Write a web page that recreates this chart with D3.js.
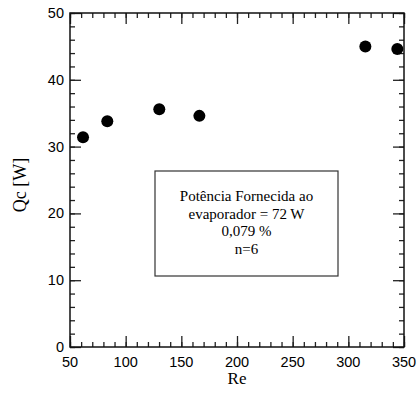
<!DOCTYPE html>
<html>
<head>
<meta charset="utf-8">
<script src="https://cdn.jsdelivr.net/npm/d3@7"></script>
<style>
  body { margin: 0; background: #fff; }
  svg { display: block; }
</style>
</head>
<body>
<div id="chart"></div>
<script>
// data
let reValues = [61.7, 83.5, 130.2, 166.2, 315.3, 344];
let qcValues = [31.4, 33.8, 35.6, 34.6, 45.0, 44.6];
let xTicks = [50, 100, 150, 200, 250, 300, 350];
let yTicks = [0, 10, 20, 30, 40, 50];
let boxLines = ["Potência Fornecida ao", "evaporador = 72 W", "0,079 %", "n=6"];

//SVG sizes and margins
let width = 417,
  height = 394;
let margin = { top: 13, right: 13, bottom: 47, left: 70 };
let plotW = width - margin.left - margin.right,
  plotH = height - margin.top - margin.bottom;

let svg = d3.select("#chart").append("svg")
  .attr("width", width)
  .attr("height", height);

let x = d3.scaleLinear().domain([50, 350]).range([0, plotW]);
let y = d3.scaleLinear().domain([0, 50]).range([plotH, 0]);

let g = svg.append("g")
  .attr("transform", "translate(" + margin.left + "," + margin.top + ")");

let sans = "'Liberation Sans', Arial, sans-serif";
let serif = "'Liberation Serif', 'Times New Roman', serif";

//minor + major ticks on all four sides, pointing inward
function drawAxis(axis, major, minor, transform) {
  let a1 = g.append("g").attr("transform", transform)
    .call(axis.tickValues(minor).tickSize(-5).tickFormat(""));
  let a2 = g.append("g").attr("transform", transform)
    .call(axis.tickValues(major).tickSize(-11).tickFormat(""));
  [a1, a2].forEach(function (a) {
    a.select(".domain").remove();
    a.selectAll("line").attr("stroke", "#222").attr("stroke-width", 1.3);
  });
}
let xMinor = d3.range(50, 351, 10),
  yMinor = d3.range(0, 51, 2);
drawAxis(d3.axisBottom(x), xTicks, xMinor, "translate(0," + plotH + ")");
drawAxis(d3.axisTop(x), xTicks, xMinor, "translate(0,0)");
drawAxis(d3.axisLeft(y), yTicks, yMinor, "translate(0,0)");
drawAxis(d3.axisRight(y), yTicks, yMinor, "translate(" + plotW + ",0)");

//frame
g.append("rect")
  .attr("width", plotW).attr("height", plotH)
  .attr("fill", "none").attr("stroke", "#111").attr("stroke-width", 1.5);

//tick labels
g.selectAll(".xlab").data(xTicks).enter().append("text")
  .attr("x", d => x(d)).attr("y", plotH + 20)
  .attr("text-anchor", "middle")
  .style("font-family", sans).style("font-size", "14.5px")
  .text(d => d);
g.selectAll(".ylab").data(yTicks).enter().append("text")
  .attr("x", -6).attr("y", d => y(d) + 5)
  .attr("text-anchor", "end")
  .style("font-family", sans).style("font-size", "14.5px")
  .text(d => d);

//axis titles
svg.append("text")
  .attr("x", margin.left + plotW / 2).attr("y", 384)
  .attr("text-anchor", "middle")
  .style("font-family", serif).style("font-size", "17px")
  .text("Re");
svg.append("text")
  .attr("transform", "translate(26," + (margin.top + plotH / 2 + 5) + ") rotate(-90)")
  .attr("text-anchor", "middle")
  .style("font-family", serif).style("font-size", "18px")
  .text("Qc [W]");

//points
g.selectAll(".pt").data(reValues).enter().append("circle")
  .attr("cx", (d, i) => x(d)).attr("cy", (d, i) => y(qcValues[i]))
  .attr("r", 6).attr("fill", "#000");

//annotation box
let bx0 = 85, by0 = 158, bw = 183, bh = 105;
g.append("rect")
  .attr("x", bx0).attr("y", by0).attr("width", bw).attr("height", bh)
  .attr("fill", "#fff").attr("stroke", "#333").attr("stroke-width", 1.2);
g.selectAll(".boxline").data(boxLines).enter().append("text")
  .attr("x", bx0 + bw / 2)
  .attr("y", (d, i) => by0 + 30 + i * 17.5)
  .attr("text-anchor", "middle")
  .style("font-family", serif).style("font-size", "15px")
  .text(d => d);
</script>
</body>
</html>
